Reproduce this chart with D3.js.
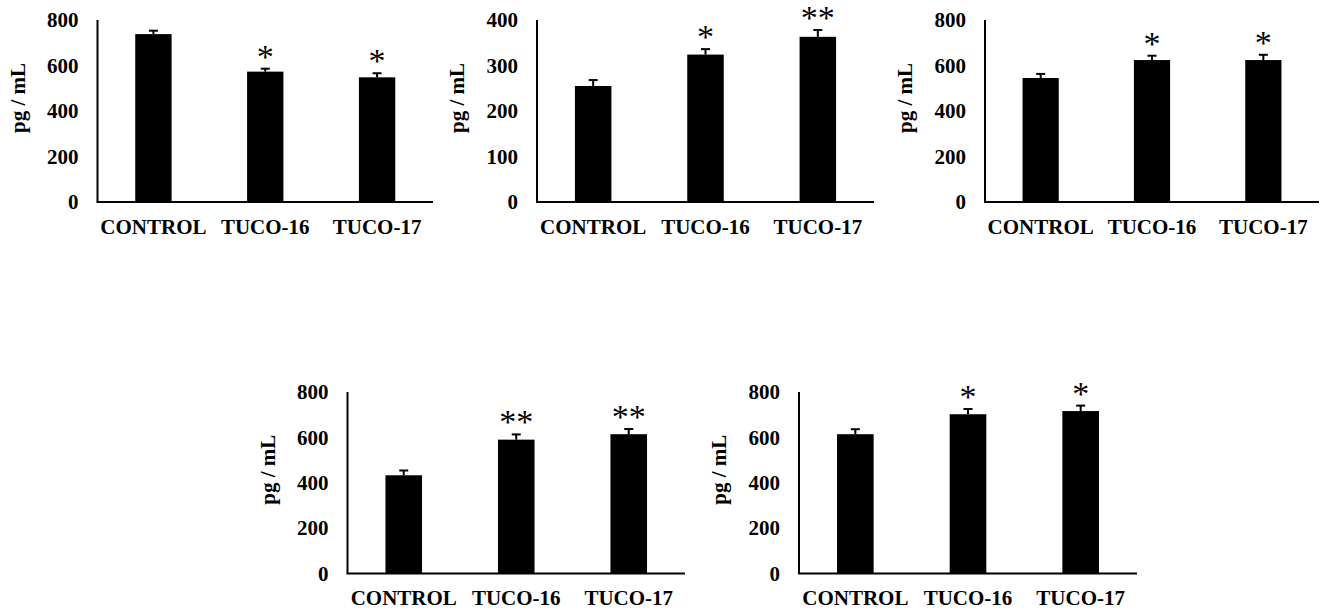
<!DOCTYPE html>
<html><head><meta charset="utf-8">
<script src="https://cdn.jsdelivr.net/npm/d3@7"></script>
<style>
html,body{margin:0;padding:0;background:#fff;}
svg{display:block;}
text{font-family:"Liberation Serif","Times New Roman",serif;fill:#000;}
</style></head>
<body>
<svg id="chart" width="1325" height="611"></svg>
<script>
// ---- data ----
const categories = ["CONTROL", "TUCO-16", "TUCO-17"];
const yLabel = "pg / mL";

const values1 = [738, 573, 548];
const errors1 = [15, 13, 18];
const stars1  = ["", "*", "*"];
const ticks1  = [0, 200, 400, 600, 800];

const values2 = [255, 324, 363];
const errors2 = [13, 12, 15];
const stars2  = ["", "*", "**"];
const ticks2  = [0, 100, 200, 300, 400];

const values3 = [545, 624, 624];
const errors3 = [18, 19, 23];
const stars3  = ["", "*", "*"];
const ticks3  = [0, 200, 400, 600, 800];

const values4 = [433, 590, 614];
const errors4 = [21, 23, 23];
const stars4  = ["", "**", "**"];
const ticks4  = [0, 200, 400, 600, 800];

const values5 = [614, 702, 716];
const errors5 = [22, 23, 24];
const stars5  = ["", "*", "*"];
const ticks5  = [0, 200, 400, 600, 800];

// ---- layout (positions kept separate from data) ----
const layouts = [
  {x0: 97.5, x1: 433,  y0: 20,  y1: 202},
  {x0: 537,  x1: 874,  y0: 20,  y1: 202},
  {x0: 985,  x1: 1319, y0: 20,  y1: 202},
  {x0: 347.5,x1: 685,  y0: 392, y1: 573.5},
  {x0: 799,  x1: 1137, y0: 392, y1: 573.5}
];
const datasets = [
  {values: values1, errors: errors1, stars: stars1, ticks: ticks1},
  {values: values2, errors: errors2, stars: stars2, ticks: ticks2},
  {values: values3, errors: errors3, stars: stars3, ticks: ticks3},
  {values: values4, errors: errors4, stars: stars4, ticks: ticks4},
  {values: values5, errors: errors5, stars: stars5, ticks: ticks5}
];

const svg = d3.select("#chart");

datasets.forEach((ds, i) => {
  const L = layouts[i];
  const g = svg.append("g");
  const x = d3.scaleBand().domain(categories).range([L.x0, L.x1])
              .paddingInner(0.675).paddingOuter(0.3375);
  const yMax = d3.max(ds.ticks);
  const y = d3.scaleLinear().domain([0, yMax]).range([L.y1, L.y0]);

  const rows = categories.map((c, j) => ({c, v: ds.values[j], e: ds.errors[j], s: ds.stars[j]}));

  // bars
  g.selectAll("rect.bar").data(rows).enter().append("rect")
    .attr("x", d => x(d.c)).attr("width", x.bandwidth())
    .attr("y", d => y(d.v)).attr("height", d => y(0) - y(d.v))
    .attr("fill", "#000");

  // error bars (upper only)
  const cx = d => x(d.c) + x.bandwidth() / 2;
  g.selectAll("line.err").data(rows).enter().append("line")
    .attr("x1", cx).attr("x2", cx)
    .attr("y1", d => y(d.v)).attr("y2", d => y(d.v + d.e))
    .attr("stroke", "#000").attr("stroke-width", 2);
  g.selectAll("line.cap").data(rows).enter().append("line")
    .attr("x1", d => cx(d) - 4.5).attr("x2", d => cx(d) + 4.5)
    .attr("y1", d => y(d.v + d.e)).attr("y2", d => y(d.v + d.e))
    .attr("stroke", "#000").attr("stroke-width", 2);

  // significance stars
  g.selectAll("text.star").data(rows.filter(d => d.s)).enter().append("text")
    .attr("x", cx).attr("y", d => y(d.v + d.e) - 1)
    .attr("text-anchor", "middle")
    .style("font-size", "34px")
    .text(d => d.s);

  // y axis
  const yAxis = d3.axisLeft(y).tickValues(ds.ticks).tickSize(0).tickPadding(19);
  const ya = g.append("g").attr("transform", `translate(${L.x0},0)`).call(yAxis);
  ya.select(".domain").attr("stroke", "#000").attr("stroke-width", 2)
    .attr("d", `M0,${L.y0}V${L.y1}`);
  ya.selectAll("text").style("font-size", "21px").style("font-weight", "bold")
    .style("font-family", '"Liberation Serif","Times New Roman",serif').attr("fill", "#000");

  // x axis
  const xAxis = d3.axisBottom(x).tickSize(0).tickPadding(17);
  const xa = g.append("g").attr("transform", `translate(0,${L.y1})`).call(xAxis);
  xa.select(".domain").attr("stroke", "#000").attr("stroke-width", 2)
    .attr("d", `M${L.x0 - 1},0H${L.x1}`);
  xa.selectAll("text").style("font-size", "21px").style("font-weight", "bold")
    .style("font-family", '"Liberation Serif","Times New Roman",serif').attr("fill", "#000");

  // y axis title
  const ty = (L.y0 + L.y1) / 2 - 13;
  g.append("text")
    .attr("transform", `translate(${L.x0 - 80},${ty}) rotate(-90)`)
    .attr("text-anchor", "middle").attr("dominant-baseline", "central")
    .style("font-size", "21px").style("font-weight", "bold")
    .text(yLabel);
});
</script>
</body></html>
